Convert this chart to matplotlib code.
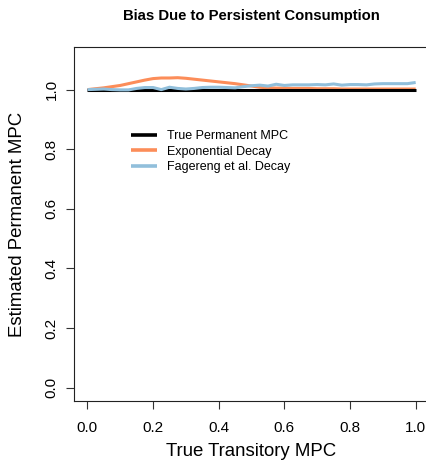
import matplotlib
matplotlib.use("Agg")
import matplotlib.pyplot as plt
import numpy as np

plt.rcParams['font.family'] = ['Liberation Sans', 'DejaVu Sans']

# Data
transitory_mpc = [0.000, 0.025, 0.050, 0.075, 0.100, 0.125, 0.150, 0.175, 0.200, 0.225,
                  0.250, 0.275, 0.300, 0.325, 0.350, 0.375, 0.400, 0.425, 0.450, 0.475,
                  0.500, 0.525, 0.550, 0.575, 0.600, 0.625, 0.650, 0.675, 0.700, 0.725,
                  0.750, 0.775, 0.800, 0.825, 0.850, 0.875, 0.900, 0.925, 0.950, 0.975, 1.000]
true_permanent = [1.0] * len(transitory_mpc)
exponential_decay = [1.000, 1.003, 1.006, 1.010, 1.014, 1.020, 1.026, 1.032, 1.037, 1.039,
                     1.039, 1.040, 1.038, 1.035, 1.032, 1.029, 1.026, 1.023, 1.020, 1.016,
                     1.012, 1.008, 1.006, 1.005, 1.005, 1.004, 1.004, 1.004, 1.003, 1.003,
                     1.003, 1.002, 1.002, 1.002, 1.002, 1.002, 1.002, 1.002, 1.002, 1.002, 1.002]
fagereng_decay = [1.000, 1.001, 1.002, 1.000, 0.999, 0.999, 1.004, 1.007, 1.007, 1.000,
                  1.008, 1.004, 1.002, 1.004, 1.007, 1.008, 1.008, 1.007, 1.006, 1.010,
                  1.013, 1.015, 1.012, 1.018, 1.014, 1.016, 1.016, 1.016, 1.017, 1.016,
                  1.019, 1.015, 1.017, 1.017, 1.016, 1.019, 1.020, 1.020, 1.020, 1.020, 1.024]
labels = ["True Permanent MPC", "Exponential Decay", "Fagereng et al. Decay"]
colors = ["#000000", "#FC8D59", "#91BFDB"]
xticks = [0.0, 0.2, 0.4, 0.6, 0.8, 1.0]
yticks = [0.0, 0.2, 0.4, 0.6, 0.8, 1.0]

W, H = 427, 461
fig = plt.figure(figsize=(W / 100, H / 100), dpi=100)
left, right, top, bottom = 74.3, 428.8, 46.7, 400.8
ax = fig.add_axes([left / W, 1 - bottom / H, (right - left) / W, (bottom - top) / H])

l1, = ax.plot(transitory_mpc, true_permanent, color=colors[0], lw=2.2, zorder=3, solid_capstyle='butt')
l2, = ax.plot(transitory_mpc, exponential_decay, color=colors[1], lw=2.2, zorder=2, solid_capstyle='butt')
l3, = ax.plot(transitory_mpc, fagereng_decay, color=colors[2], lw=2.2, zorder=4, solid_capstyle='butt')

ax.set_xlim(-0.04, 1.04)
ax.set_ylim(-0.044, 1.144)
ax.set_xticks(xticks)
ax.set_yticks(yticks)
ax.set_xticklabels([f"{v:.1f}" for v in xticks])
ax.set_yticklabels([f"{v:.1f}" for v in yticks], rotation=90, va='center')
ax.tick_params(axis='both', direction='out', length=5.8, width=0.8, labelsize=11, colors='#333333', labelcolor='black')
ax.tick_params(axis='x', pad=8.5)
ax.tick_params(axis='y', pad=5.5)
for s in ax.spines.values():
    s.set_linewidth(0.8)
    s.set_color('#222222')
ax.spines['right'].set_visible(False)

leg = ax.legend([l1, l2, l3], labels, loc='upper left', frameon=False, fontsize=9,
                bbox_to_anchor=((131 - left) / (right - left), (bottom - 130) / (bottom - top)),
                handlelength=2.1, handletextpad=0.8, labelspacing=0.28, borderaxespad=0, borderpad=0)
for h in leg.get_lines():
    h.set_linewidth(2.6)

fig.text(251 / W, 1 - 16 / H, "Bias Due to Persistent Consumption", ha='center', va='center',
         fontsize=10.7, fontweight='bold')
fig.text(251 / W, 1 - 451 / H, "True Transitory MPC", ha='center', va='center', fontsize=13.4)
fig.text(18 / W, 1 - 224 / H, "Estimated Permanent MPC", ha='center', va='center', fontsize=13.4, rotation=90)

fig.savefig("out.png", dpi=100)
